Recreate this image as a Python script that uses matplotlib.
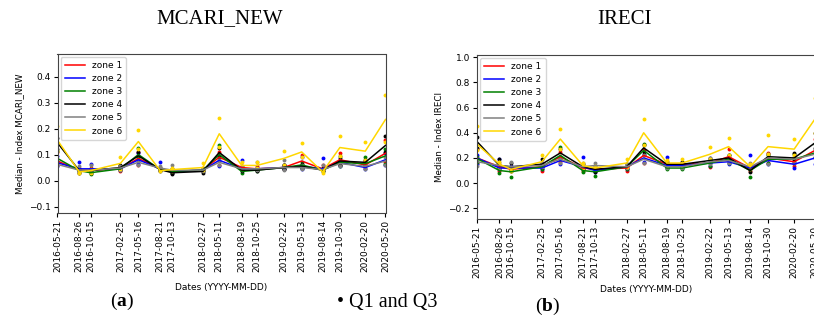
import matplotlib
matplotlib.use('Agg')
import matplotlib.pyplot as plt
import matplotlib.dates as mdates
import pandas as pd

# acquisition dates
dates = ['2016-05-21', '2016-08-26', '2016-10-15', '2017-02-25', '2017-05-16',
         '2017-08-21', '2017-10-13', '2018-02-27', '2018-05-11', '2018-08-19',
         '2018-10-25', '2019-02-22', '2019-05-13', '2019-08-14', '2019-10-30',
         '2020-02-20', '2020-05-20']

zones = ['zone 1', 'zone 2', 'zone 3', 'zone 4', 'zone 5', 'zone 6']
zone_colors = ['red', 'blue', 'green', 'black', 'gray', 'gold']

# MCARI_NEW medians, one row per zone
mcari_med = [
    [0.075, 0.040, 0.040, 0.045, 0.085, 0.045, 0.035, 0.040, 0.090, 0.050, 0.045, 0.050, 0.075, 0.045, 0.080, 0.060, 0.105],
    [0.068, 0.045, 0.045, 0.045, 0.080, 0.045, 0.035, 0.040, 0.078, 0.045, 0.045, 0.050, 0.055, 0.045, 0.070, 0.050, 0.080],
    [0.085, 0.038, 0.030, 0.045, 0.100, 0.042, 0.035, 0.040, 0.100, 0.035, 0.040, 0.050, 0.060, 0.040, 0.070, 0.065, 0.095],
    [0.145, 0.038, 0.038, 0.050, 0.095, 0.042, 0.030, 0.035, 0.108, 0.040, 0.040, 0.050, 0.055, 0.040, 0.075, 0.070, 0.135],
    [0.062, 0.040, 0.040, 0.048, 0.070, 0.048, 0.040, 0.040, 0.070, 0.045, 0.045, 0.050, 0.050, 0.042, 0.065, 0.055, 0.075],
    [0.155, 0.033, 0.038, 0.066, 0.150, 0.038, 0.042, 0.050, 0.180, 0.058, 0.058, 0.085, 0.110, 0.033, 0.127, 0.113, 0.235],
]
mcari_q1 = [
    [0.060, 0.030, 0.035, 0.035, 0.060, 0.040, 0.030, 0.035, 0.060, 0.040, 0.040, 0.045, 0.060, 0.040, 0.060, 0.050, 0.070],
    [0.055, 0.035, 0.040, 0.040, 0.065, 0.040, 0.030, 0.035, 0.055, 0.040, 0.040, 0.045, 0.045, 0.040, 0.055, 0.045, 0.060],
    [0.070, 0.030, 0.025, 0.040, 0.085, 0.040, 0.030, 0.035, 0.085, 0.030, 0.035, 0.045, 0.050, 0.035, 0.055, 0.055, 0.065],
    [0.120, 0.035, 0.030, 0.045, 0.080, 0.035, 0.025, 0.030, 0.095, 0.035, 0.035, 0.045, 0.050, 0.035, 0.060, 0.060, 0.110],
    [0.055, 0.035, 0.035, 0.040, 0.060, 0.040, 0.035, 0.035, 0.060, 0.040, 0.040, 0.040, 0.045, 0.040, 0.055, 0.045, 0.060],
    [0.115, 0.030, 0.030, 0.045, 0.120, 0.035, 0.035, 0.040, 0.130, 0.045, 0.050, 0.060, 0.090, 0.030, 0.095, 0.080, 0.150],
]
mcari_q3 = [
    [0.110, 0.050, 0.050, 0.055, 0.110, 0.050, 0.045, 0.050, 0.110, 0.055, 0.055, 0.060, 0.100, 0.060, 0.105, 0.075, 0.155],
    [0.095, 0.070, 0.065, 0.050, 0.105, 0.070, 0.045, 0.045, 0.090, 0.080, 0.050, 0.060, 0.090, 0.085, 0.080, 0.060, 0.105],
    [0.115, 0.045, 0.040, 0.055, 0.125, 0.050, 0.045, 0.045, 0.135, 0.045, 0.045, 0.060, 0.070, 0.050, 0.095, 0.090, 0.120],
    [0.163, 0.045, 0.045, 0.060, 0.110, 0.050, 0.040, 0.040, 0.125, 0.050, 0.050, 0.060, 0.065, 0.050, 0.085, 0.080, 0.170],
    [0.075, 0.055, 0.060, 0.055, 0.080, 0.055, 0.060, 0.045, 0.080, 0.055, 0.070, 0.080, 0.060, 0.060, 0.075, 0.065, 0.090],
    [0.208, 0.040, 0.045, 0.090, 0.193, 0.045, 0.050, 0.068, 0.240, 0.070, 0.072, 0.113, 0.146, 0.040, 0.172, 0.147, 0.328],
]

# IRECI medians, one row per zone
ireci_med = [
    [0.20, 0.13, 0.11, 0.13, 0.21, 0.12, 0.11, 0.12, 0.22, 0.15, 0.15, 0.16, 0.21, 0.12, 0.20, 0.17, 0.26],
    [0.20, 0.12, 0.12, 0.12, 0.18, 0.13, 0.10, 0.13, 0.20, 0.14, 0.14, 0.16, 0.17, 0.12, 0.18, 0.15, 0.20],
    [0.195, 0.10, 0.09, 0.13, 0.22, 0.10, 0.09, 0.13, 0.26, 0.12, 0.12, 0.16, 0.19, 0.10, 0.19, 0.19, 0.24],
    [0.33, 0.14, 0.13, 0.15, 0.24, 0.13, 0.11, 0.13, 0.28, 0.15, 0.15, 0.18, 0.20, 0.10, 0.21, 0.20, 0.32],
    [0.17, 0.14, 0.13, 0.14, 0.19, 0.13, 0.14, 0.13, 0.19, 0.13, 0.13, 0.17, 0.18, 0.13, 0.20, 0.19, 0.23],
    [0.31, 0.15, 0.11, 0.17, 0.35, 0.14, 0.12, 0.16, 0.40, 0.16, 0.16, 0.23, 0.29, 0.13, 0.29, 0.27, 0.51],
]
ireci_q1 = [
    [0.16, 0.10, 0.10, 0.10, 0.17, 0.10, 0.10, 0.10, 0.16, 0.13, 0.13, 0.13, 0.17, 0.10, 0.16, 0.14, 0.20],
    [0.15, 0.11, 0.11, 0.11, 0.15, 0.11, 0.09, 0.11, 0.17, 0.12, 0.12, 0.14, 0.15, 0.11, 0.15, 0.12, 0.15],
    [0.17, 0.08, 0.05, 0.11, 0.19, 0.09, 0.06, 0.11, 0.22, 0.11, 0.11, 0.14, 0.16, 0.05, 0.16, 0.16, 0.21],
    [0.28, 0.12, 0.11, 0.13, 0.21, 0.12, 0.09, 0.12, 0.25, 0.13, 0.13, 0.16, 0.18, 0.09, 0.19, 0.18, 0.28],
    [0.14, 0.12, 0.12, 0.13, 0.16, 0.12, 0.12, 0.12, 0.16, 0.12, 0.12, 0.15, 0.16, 0.12, 0.15, 0.16, 0.20],
    [0.26, 0.13, 0.10, 0.14, 0.27, 0.12, 0.11, 0.13, 0.30, 0.14, 0.14, 0.19, 0.22, 0.11, 0.23, 0.22, 0.40],
]
ireci_q3 = [
    [0.27, 0.15, 0.13, 0.16, 0.25, 0.14, 0.13, 0.14, 0.26, 0.17, 0.17, 0.18, 0.27, 0.14, 0.24, 0.20, 0.35],
    [0.22, 0.19, 0.14, 0.14, 0.21, 0.21, 0.12, 0.14, 0.23, 0.21, 0.16, 0.18, 0.20, 0.22, 0.20, 0.17, 0.24],
    [0.21, 0.12, 0.10, 0.14, 0.29, 0.11, 0.10, 0.14, 0.31, 0.13, 0.13, 0.18, 0.22, 0.12, 0.22, 0.23, 0.31],
    [0.37, 0.19, 0.16, 0.19, 0.27, 0.15, 0.13, 0.15, 0.30, 0.17, 0.17, 0.20, 0.22, 0.13, 0.23, 0.24, 0.40],
    [0.19, 0.17, 0.17, 0.16, 0.21, 0.16, 0.16, 0.15, 0.22, 0.15, 0.16, 0.20, 0.20, 0.16, 0.23, 0.21, 0.27],
    [0.45, 0.17, 0.13, 0.22, 0.43, 0.16, 0.14, 0.19, 0.51, 0.18, 0.19, 0.29, 0.36, 0.15, 0.38, 0.35, 0.68],
]

x = pd.to_datetime(dates)
W, H = 814, 325

plt.rcParams['mathtext.fontset'] = 'custom'
plt.rcParams['mathtext.rm'] = 'Liberation Serif'
plt.rcParams['mathtext.bf'] = 'Liberation Serif:bold'

fig = plt.figure(figsize=(W / 100, H / 100), dpi=100)


def draw_panel(rect, med, q1, q3, ylabel, ylim, yticks, xlabelpad):
    ax = fig.add_axes(rect)
    for i in range(len(zones)):
        ax.plot(x, q1[i], 'o', color=zone_colors[i], markersize=2.8, markeredgewidth=0)
        ax.plot(x, q3[i], 'o', color=zone_colors[i], markersize=2.8, markeredgewidth=0)
    for i in range(len(zones)):
        ax.plot(x, med[i], color=zone_colors[i], linewidth=1.1, label=zones[i])
    ax.set_xlim(x[0], x[-1])
    ax.set_ylim(*ylim)
    ax.set_yticks(yticks)
    ax.set_xticks(x)
    ax.xaxis.set_major_formatter(mdates.DateFormatter('%Y-%m-%d'))
    ax.tick_params(axis='x', labelrotation=90, labelsize=6.5, length=3, pad=2)
    ax.tick_params(axis='y', labelsize=6.5, length=3, pad=2)
    ax.set_ylabel(ylabel, fontsize=6.3, labelpad=3)
    ax.set_xlabel('Dates (YYYY-MM-DD)', fontsize=6.5, labelpad=xlabelpad)
    for s in ax.spines.values():
        s.set_color('#444444')
    ax.legend(loc='upper left', fontsize=6.5, handlelength=2.2, labelspacing=0.45,
              borderpad=0.45, handletextpad=0.8, borderaxespad=0.35)
    return ax


# left panel (a)
draw_panel([57.5 / W, 1 - 213 / H, 328 / W, 159 / H], mcari_med, mcari_q1, mcari_q3,
           'Median - Index MCARI_NEW', (-0.125, 0.487), [-0.1, 0.0, 0.1, 0.2, 0.3, 0.4], 8)

# right panel (b), runs past the right edge as in the source figure
draw_panel([477 / W, 1 - 219 / H, 338 / W, 164 / H], ireci_med, ireci_q1, ireci_q3,
           'Median - Index IRECI', (-0.285, 1.018), [-0.2, 0.0, 0.2, 0.4, 0.6, 0.8, 1.0], 5)

serif = 'Liberation Serif'
fig.text(220 / W, 1 - 19 / H, 'MCARI_NEW', ha='center', va='center', fontsize=15, family=serif)
fig.text(625 / W, 1 - 19 / H, 'IRECI', ha='center', va='center', fontsize=15, family=serif)
fig.text(122 / W, 1 - 301 / H, r'$\mathrm{(}\mathbf{a}\mathrm{)}$', ha='center', va='center', fontsize=14)
fig.text(548 / W, 1 - 306 / H, r'$\mathrm{(}\mathbf{b}\mathrm{)}$', ha='center', va='center', fontsize=14)
fig.text(337 / W, 1 - 302 / H, '\u2022 Q1 and Q3', ha='left', va='center', fontsize=14.5, family=serif)

fig.savefig('out.png', dpi=100)
